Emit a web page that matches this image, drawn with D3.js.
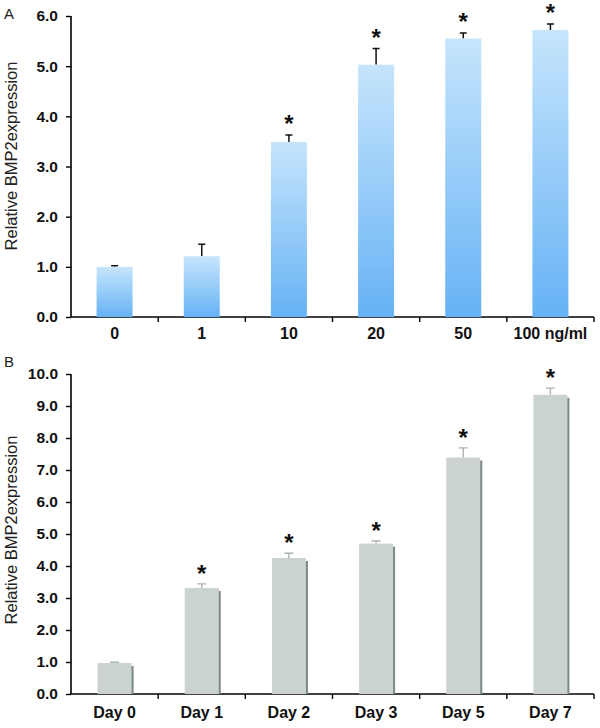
<!DOCTYPE html>
<html><head><meta charset="utf-8">
<script src="https://cdn.jsdelivr.net/npm/d3@7"></script>
<style>body{margin:0;background:#fff}svg{display:block}</style>
</head><body>
<svg id="c" width="600" height="728"></svg>
<script>
const catsA = ["0","1","10","20","50","100 ng/ml"];
const valsA = [1.0,1.21,3.49,5.03,5.55,5.72];
const errA  = [0.02,0.24,0.14,0.32,0.11,0.12];
const sigA  = [false,false,true,true,true,true];
const ticksA = [0,1,2,3,4,5,6];

const catsB = ["Day 0","Day 1","Day 2","Day 3","Day 5","Day 7"];
const valsB = [0.97,3.31,4.25,4.70,7.39,9.35];
const errB  = [0.02,0.13,0.15,0.08,0.30,0.21];
const sigB  = [false,true,true,true,true,true];
const ticksB = [0,1,2,3,4,5,6,7,8,9,10];

const svg = d3.select("#c");
const defs = svg.append("defs");
const grad = defs.append("linearGradient").attr("id","gA").attr("x1",0).attr("y1",0).attr("x2",0).attr("y2",1);
grad.append("stop").attr("offset","0%").attr("stop-color","#c6e5fc");
grad.append("stop").attr("offset","100%").attr("stop-color","#66b2f5");

const FONT = "Arial, 'Liberation Sans', sans-serif";

function panel(opt){
  const g = svg.append("g");
  const x = d3.scaleBand().domain(opt.cats).range([71,594]).paddingInner(0).paddingOuter(0);
  const y = d3.scaleLinear().domain([0,opt.max]).range([opt.bottom,opt.top]);
  const ya = g.append("g").attr("transform","translate(71,0)")
    .call(d3.axisLeft(y).tickValues(opt.ticks).tickFormat(d3.format(".1f")).tickSize(5).tickPadding(8));
  ya.select(".domain").attr("stroke","#000").attr("stroke-width",1.6).attr("d",`M0,${opt.top}V${opt.bottom}`);
  ya.selectAll(".tick line").attr("stroke","#000").attr("stroke-width",1.4);
  ya.selectAll("text").attr("font-family",FONT).attr("font-weight","bold").attr("font-size",15.5).attr("fill","#111");
  const xa = g.append("g").attr("transform",`translate(0,${opt.bottom})`)
    .call(d3.axisBottom(x).tickSize(0).tickPadding(opt.xPad));
  xa.select(".domain").attr("stroke","#000").attr("stroke-width",1.6).attr("d","M71,0H594");
  xa.selectAll("text").attr("font-family",FONT).attr("font-weight","bold").attr("font-size",16).attr("fill","#111");
  const bounds = opt.cats.map(c=>x(c)).concat([x(opt.cats[opt.cats.length-1])+x.bandwidth()]);
  g.selectAll(".xt").data(bounds.slice(1)).join("line")
    .attr("x1",d=>d).attr("x2",d=>d).attr("y1",opt.bottom).attr("y2",opt.bottom+5)
    .attr("stroke","#000").attr("stroke-width",1.4);
  g.append("text").attr("transform",`translate(17,${opt.titleY}) rotate(-90)`)
    .attr("text-anchor","middle").attr("font-family",FONT).attr("font-size",16.5).attr("fill","#222")
    .text("Relative BMP2expression");
  g.append("text").attr("x",4).attr("y",opt.letterY).attr("font-family",FONT).attr("font-size",15).attr("fill","#222").text(opt.letter);

  const bw = opt.bw;
  const cx = c => x(c)+x.bandwidth()/2;
  const data = opt.cats.map((c,i)=>({c,v:opt.vals[i],e:opt.errs[i],s:opt.sig[i]}));
  g.selectAll(".eb").data(data).join("path")
    .attr("d",d=>`M${cx(d.c)},${y(d.v)}V${y(d.v+d.e)}M${cx(d.c)-opt.cap/2},${y(d.v+d.e)}H${cx(d.c)+opt.cap/2}`)
    .attr("stroke",opt.errColor).attr("stroke-width",opt.errW).attr("fill","none");
  if(opt.shadow){
    g.selectAll(".sh").data(data).join("rect")
      .attr("x",d=>cx(d.c)+bw/2-1).attr("width",3)
      .attr("y",d=>y(d.v)+3).attr("height",d=>opt.bottom-y(d.v)-3)
      .attr("fill",opt.shadow);
  }
  g.selectAll(".bar").data(data).join("rect")
    .attr("x",d=>cx(d.c)-bw/2).attr("width",bw)
    .attr("y",d=>y(d.v)).attr("height",d=>opt.bottom-y(d.v))
    .attr("fill",opt.fill);
  g.selectAll(".ast").data(data.filter(d=>d.s)).join("text")
    .attr("x",d=>cx(d.c)).attr("y",d=>y(d.v+d.e)+opt.astOff)
    .attr("text-anchor","middle").attr("font-family",FONT).attr("font-weight","bold")
    .attr("font-size",24).attr("fill","#111").text("*");
}

panel({cats:catsA,vals:valsA,errs:errA,sig:sigA,ticks:ticksA,max:6,top:16,bottom:317,xPad:11,
  bw:36,fill:"url(#gA)",errColor:"#111",errW:1.5,cap:7,astOff:-3,titleY:156,letter:"A",letterY:19});
panel({cats:catsB,vals:valsB,errs:errB,sig:sigB,ticks:ticksB,max:10,top:374,bottom:694,xPad:13,
  bw:34,fill:"#cbd3d1",shadow:"#7b8987",errColor:"#aab3b1",errW:1.4,cap:9,astOff:-2,titleY:530,letter:"B",letterY:367});
</script>
</body></html>
